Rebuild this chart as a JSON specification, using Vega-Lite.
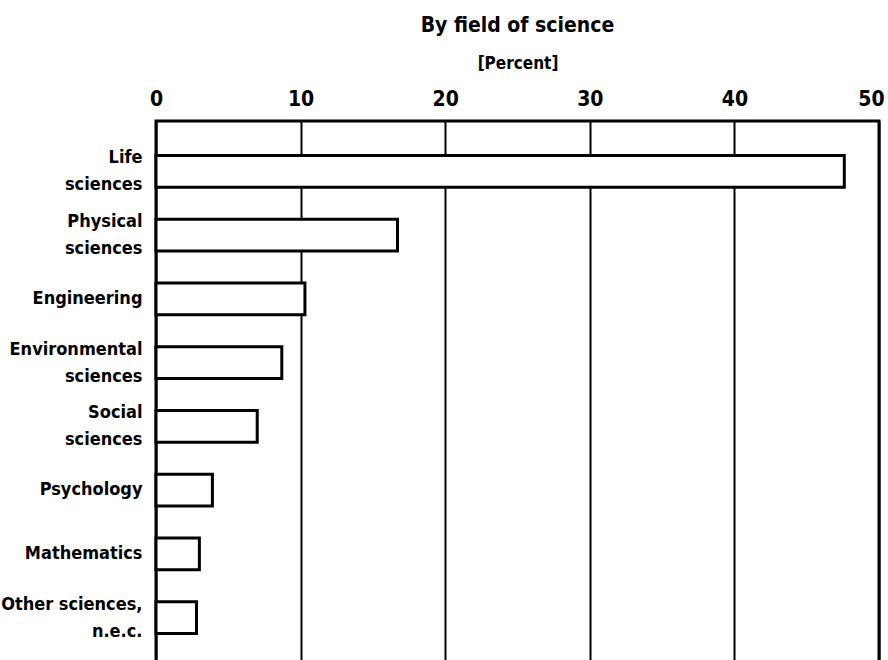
{
  "$schema": "https://vega.github.io/schema/vega-lite/v6.json",
  "width": 723,
  "height": 547,
  "autosize": {"type": "none"},
  "padding": {"left": 156, "top": 121, "right": 9, "bottom": 0},
  "background": "white",
  "config": {
    "view": {"stroke": "black", "strokeWidth": 3},
    "font": "DejaVu Sans Condensed"
  },
  "title": {
    "text": "By field of science",
    "anchor": "middle",
    "font": "DejaVu Sans Condensed",
    "fontSize": 21,
    "fontWeight": "bold",
    "color": "black",
    "offset": 18
  },
  "data": {
    "values": [
      {"field": "Life|sciences", "percent": 47.6},
      {"field": "Physical|sciences", "percent": 16.7},
      {"field": "Engineering", "percent": 10.3},
      {"field": "Environmental|sciences", "percent": 8.7},
      {"field": "Social|sciences", "percent": 7.0},
      {"field": "Psychology", "percent": 3.9},
      {"field": "Mathematics", "percent": 3.0},
      {"field": "Other sciences,|n.e.c.", "percent": 2.8}
    ]
  },
  "mark": {"type": "bar", "fill": "white", "stroke": "black", "strokeWidth": 3},
  "encoding": {
    "y": {
      "field": "field",
      "type": "nominal",
      "sort": null,
      "scale": {"paddingInner": 0.5, "paddingOuter": 0.54},
      "axis": {
        "title": null,
        "domain": false,
        "ticks": false,
        "labelPadding": 14,
        "labelFont": "DejaVu Sans Condensed",
        "labelFontSize": 18,
        "labelFontWeight": "bold",
        "labelColor": "black",
        "labelLineHeight": 27,
        "labelLimit": 0,
        "labelOffset": {"condition": {"test": "indexof(datum.value, '|') >= 0", "value": -13}, "value": 0},
        "labelExpr": "split(datum.label, '|')"
      }
    },
    "x": {
      "field": "percent",
      "type": "quantitative",
      "scale": {"domain": [0, 50], "nice": false},
      "axis": {
        "orient": "top",
        "title": "[Percent]",
        "titleFont": "DejaVu Sans Condensed",
        "titleFontSize": 17,
        "titleFontWeight": "bold",
        "titleColor": "black",
        "titlePadding": 16,
        "values": [0, 10, 20, 30, 40, 50],
        "domain": false,
        "ticks": false,
        "labelPadding": 12,
        "labelFont": "DejaVu Sans Condensed",
        "labelFontSize": 21,
        "labelFontWeight": "bold",
        "labelColor": "black",
        "labelFlush": false,
        "labelOffset": {"condition": {"test": "datum.value == 50", "value": -8}, "value": 0},
        "grid": true,
        "gridColor": "black",
        "gridWidth": 2,
        "gridOpacity": 1
      }
    }
  }
}
